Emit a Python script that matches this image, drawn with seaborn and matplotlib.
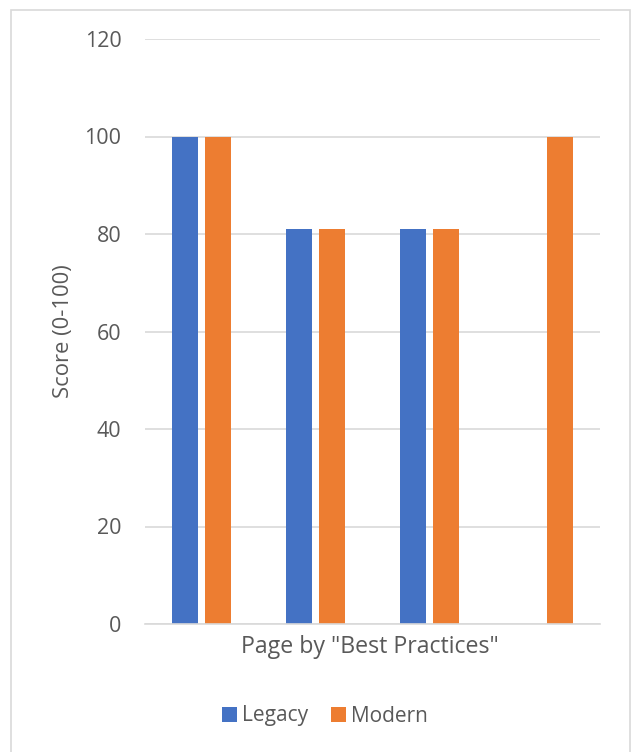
import matplotlib
matplotlib.use("Agg")
import matplotlib.pyplot as plt
import seaborn as sns
import pandas as pd
import numpy as np
from matplotlib.patches import Rectangle

# Scores per page for each site version
pages = ["Page 1", "Page 2", "Page 3", "Page 4"]
legacy = [100, 81, 81, 0]
modern = [100, 81, 81, 100]
series = ["Legacy", "Modern"]
y_ticks = [0, 20, 40, 60, 80, 100, 120]

df = pd.DataFrame({
    "page": pages * 2,
    "score": legacy + modern,
    "version": [series[0]] * len(pages) + [series[1]] * len(pages),
})

sns.set_theme(style="white")
plt.rcParams["font.family"] = ["Open Sans", "DejaVu Sans"]

text_color = "#595959"
grid_color = "#D9D9D9"
palette = {"Legacy": "#4472C4", "Modern": "#ED7D31"}

W, H = 633, 752
fig = plt.figure(figsize=(W / 100, H / 100), dpi=100)
ax = fig.add_axes([145 / W, 1 - 624 / H, 455 / W, (624 - 39) / H])

sns.barplot(data=df, x="page", y="score", hue="version", palette=palette,
            width=0.58, gap=0.21, linewidth=0, saturation=1, ax=ax, legend=True)

ax.set_ylim(0, 120)
ax.set_xlim(-0.5, 3.5)
ax.set_yticks(y_ticks)
ax.set_yticklabels([str(t) for t in y_ticks], fontsize=15.5, color=text_color)
ax.tick_params(axis="y", length=0, pad=17)
ax.set_xticks([])
ax.yaxis.grid(True, color=grid_color, linewidth=1.2)
ax.set_axisbelow(True)
for s in ["top", "right", "left"]:
    ax.spines[s].set_visible(False)
ax.spines["bottom"].set_color(grid_color)
ax.spines["bottom"].set_linewidth(1.2)

ax.set_ylabel("Score (0-100)", fontsize=15.8, color=text_color)
ax.yaxis.set_label_coords((63 - 145) / 455, 0.5)
ax.yaxis.label.set_va("center")
ax.set_xlabel('Page by "Best Practices"', fontsize=16.7, color=text_color)
ax.xaxis.set_label_coords((370 - 145) / 455, -(647 - 624) / 585)
ax.xaxis.label.set_va("center")

handles, labels = ax.get_legend_handles_labels()
ax.legend_.remove()
fig.legend(handles, labels, loc="center", bbox_to_anchor=(325 / W, 1 - 716 / H),
           ncol=2, frameon=False, fontsize=15, handlelength=0.7, handleheight=0.7,
           handletextpad=0.25, columnspacing=1.1, labelcolor=text_color)

# Light chart-area frame
fig.patches.append(Rectangle((11 / W, -0.01), (630 - 11) / W, 1 - 10 / H + 0.01,
                             transform=fig.transFigure, fill=False,
                             edgecolor="#D9D9D9", linewidth=1.2))

fig.savefig("out.png", dpi=100)
